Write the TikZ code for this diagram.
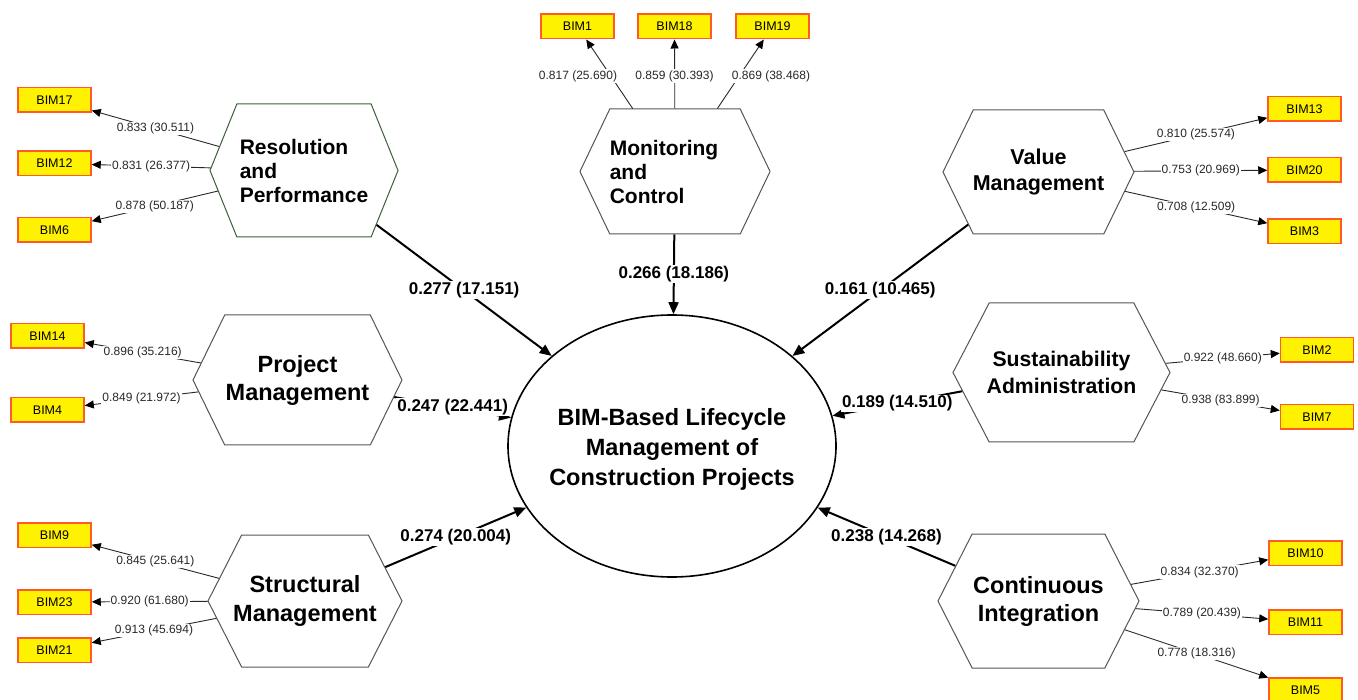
\documentclass[tikz,border=0pt]{standalone}
\usepackage{fontspec}
\setmainfont{Liberation Sans}
\usetikzlibrary{shapes.symbols,shapes.geometric,arrows.meta}
\definecolor{boxborder}{RGB}{255,90,40}
\definecolor{hexline}{RGB}{85,85,85}
\definecolor{resline}{RGB}{60,95,60}
\definecolor{lblcol}{RGB}{40,40,40}
\newcommand{\zc}[1]{\makebox[0pt][c]{#1}}
\begin{document}
\begin{tikzpicture}[x=1pt,y=-1pt,
  hexa/.style={signal, signal to=east and west, draw=hexline, line width=1pt, inner sep=0pt, align=center},
  ind/.style={rectangle, fill=yellow, draw=boxborder, line width=1.5pt, minimum width=73pt, minimum height=24.5pt, inner sep=0pt, font=\fontsize{12.5}{14}\selectfont},
  load/.style={draw=lblcol, line width=0.9pt, -{Triangle[length=9pt,width=8pt,black]}},
  loadlbl/.style={fill=white, inner sep=1pt, font=\fontsize{12}{14}\selectfont, text=lblcol},
  spath/.style={draw=black, line width=2pt, -{Triangle[length=12pt,width=10pt]}},
  pathlbl/.style={fill=white, inner sep=1pt, font=\bfseries\fontsize{17}{20}\selectfont},
]
\useasboundingbox[fill=white] (0,0) rectangle (1358,700);

% central construct
\node[ellipse, draw, line width=1.6pt, minimum width=328pt, minimum height=262pt, inner sep=0pt] (bim) at (672,446) {};
\node[align=center, inner sep=0pt, font=\bfseries\fontsize{23.5}{30}\selectfont] (bimtxt) at (672,449)
  {\zc{BIM-Based Lifecycle}\\\zc{Management of}\\\zc{Construction Projects}};

% hexagons
\node[hexa, draw=resline, minimum width=188pt, minimum height=133pt, signal pointer angle=136, align=left,
  font=\bfseries\fontsize{21}{24}\selectfont] (res) at (304,170.5) {Resolution\\and\\Performance};
\node[hexa, minimum width=184pt, minimum height=125pt, signal pointer angle=129, align=left,
  font=\bfseries\fontsize{21}{24}\selectfont] (mon) at (675,171.5) {Monitoring\hspace*{22pt}\\and\\Control};
\node[hexa, minimum width=191pt, minimum height=124pt, signal pointer angle=128,
  font=\bfseries\fontsize{21.5}{26}\selectfont] (val) at (1038.5,172) {\zc{Value}\\\zc{Management}};
\node[hexa, minimum width=209pt, minimum height=130pt, signal pointer angle=128,
  font=\bfseries\fontsize{23.5}{28}\selectfont] (proj) at (297.5,380) {\zc{Project}\\\zc{Management}};
\node[hexa, minimum width=217pt, minimum height=139pt, signal pointer angle=125,
  font=\bfseries\fontsize{21.2}{27}\selectfont] (sus) at (1061.5,372.5) {\zc{Sustainability}\\\zc{Administration}};
\node[hexa, minimum width=194pt, minimum height=132pt, signal pointer angle=126,
  font=\bfseries\fontsize{23.5}{29}\selectfont] (str) at (305,601) {\zc{Structural}\\\zc{Management}};
\node[hexa, minimum width=201pt, minimum height=134pt, signal pointer angle=126,
  font=\bfseries\fontsize{23.5}{28}\selectfont] (con) at (1038.5,601) {\zc{Continuous}\\\zc{Integration}};

% indicators
\node[ind] (b17) at (54.5,100) {BIM17};
\node[ind] (b12) at (54.5,163.5) {BIM12};
\node[ind] (b6) at (54.5,230) {BIM6};
\node[ind] (b1) at (577.5,26.5) {BIM1};
\node[ind] (b18) at (674.5,26.5) {BIM18};
\node[ind] (b19) at (772.5,26.5) {BIM19};
\node[ind] (b13) at (1304.5,109) {BIM13};
\node[ind] (b20) at (1304.5,170) {BIM20};
\node[ind] (b3) at (1304.5,231.5) {BIM3};
\node[ind] (b14) at (47.5,336) {BIM14};
\node[ind] (b4) at (47.5,410) {BIM4};
\node[ind] (b2) at (1317,350) {BIM2};
\node[ind] (b7) at (1317,417) {BIM7};
\node[ind] (b9) at (54.5,535) {BIM9};
\node[ind] (b23) at (54.5,602) {BIM23};
\node[ind] (b21) at (54.5,650) {BIM21};
\node[ind] (b10) at (1305.5,553) {BIM10};
\node[ind] (b11) at (1305.5,622) {BIM11};
\node[ind] (b5) at (1305.5,690) {BIM5};

% loadings
\draw[load] (res) -- node[loadlbl] (l17) {0.833 (30.511)} (b17);
\draw[load] (res) -- node[loadlbl] (l12) {0.831 (26.377)} (b12);
\draw[load] (res) -- node[loadlbl] (l6) {0.878 (50.187)} (b6);
\draw[load] (mon) -- (b1);
\draw[load] (mon) -- (b18);
\draw[load] (mon) -- (b19);
\node[loadlbl] (l1) at (578,76) {0.817 (25.690)};
\node[loadlbl] (l18) at (674.5,76) {0.859 (30.393)};
\node[loadlbl] (l19) at (771,76) {0.869 (38.468)};
\draw[load] (val) -- node[loadlbl] (l13) {0.810 (25.574)} (b13);
\draw[load] (val) -- node[loadlbl] (l20) {0.753 (20.969)} (b20);
\draw[load] (val) -- node[loadlbl] (l3) {0.708 (12.509)} (b3);
\draw[load] (proj) -- node[loadlbl] (l14) {0.896 (35.216)} (b14);
\draw[load] (proj) -- node[loadlbl] (l4) {0.849 (21.972)} (b4);
\draw[load] (sus) -- node[loadlbl] (l2) {0.922 (48.660)} (b2);
\draw[load] (sus) -- node[loadlbl] (l7) {0.938 (83.899)} (b7);
\draw[load] (str) -- node[loadlbl] (l9) {0.845 (25.641)} (b9);
\draw[load] (str) -- node[loadlbl] (l23) {0.920 (61.680)} (b23);
\draw[load] (str) -- node[loadlbl] (l21) {0.913 (45.694)} (b21);
\draw[load] (con) -- node[loadlbl] (l10) {0.834 (32.370)} (b10);
\draw[load] (con) -- node[loadlbl] (l11) {0.789 (20.439)} (b11);
\draw[load] (con) -- node[loadlbl] (l5) {0.778 (18.316)} (b5);

% structural paths
\draw[spath] (res) -- node[pathlbl] (p1) {0.277 (17.151)} (bim);
\draw[spath] (mon) -- node[pathlbl] (p2) {0.266 (18.186)} (bim);
\draw[spath] (val) -- node[pathlbl] (p3) {0.161 (10.465)} (bim);
\draw[spath] (proj) -- node[pathlbl] (p4) {0.247 (22.441)} (bim);
\draw[spath] (sus) -- node[pathlbl] (p5) {0.189 (14.510)} (bim);
\draw[spath] (str) -- node[pathlbl] (p6) {0.274 (20.004)} (bim);
\draw[spath] (con) -- node[pathlbl] (p7) {0.238 (14.268)} (bim);
\end{tikzpicture}
\end{document}
